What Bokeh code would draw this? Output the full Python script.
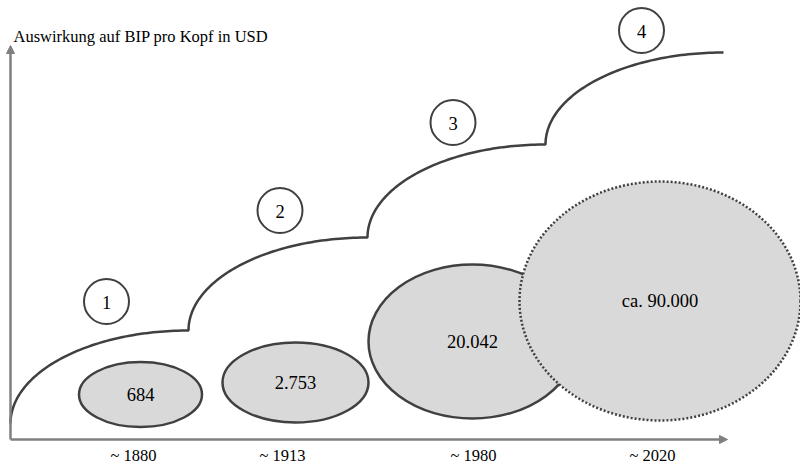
import numpy as np
from bokeh.plotting import figure
from bokeh.models import Range1d, Arrow, NormalHead, ColumnDataSource
from bokeh.core.properties import value
from bokeh.embed import file_html
from bokeh.resources import INLINE

# ---- data ----
years = ["~ 1880", "~ 1913", "~ 1980", "~ 2020"]
gdp_per_capita = [684, 2753, 20042, 90000]
gdp_labels = ["684", "2.753", "20.042", "ca. 90.000"]
stages = ["1", "2", "3", "4"]
y_title = "Auswirkung auf BIP pro Kopf in USD"

# ---- layout (window pixel coordinates) ----
year_x = [133, 282, 473, 652]
bubble_x = [140, 295, 472, 659.5]
bubble_y = [394, 382, 341, 300.5]
bubble_w = [123, 146, 208, 281]
bubble_h = [65, 80, 154, 239]
stage_x = [106, 279.5, 452.5, 641]
stage_y = [301, 210, 122, 30]
steps = [(10, 423), (188, 330), (367, 237), (545, 144), (723, 52)]

FONT = value("Liberation Serif")
OUT = "#404040"
FILL = "#d9d9d9"
AX = "#808080"

p = figure(width=800, height=466, output_backend="svg", toolbar_location=None,
           x_range=Range1d(0, 800), y_range=Range1d(466, 0),
           x_axis_location=None, y_axis_location=None, min_border=0)
p.grid.visible = False
p.outline_line_color = None
p.background_fill_color = "white"

# axes with arrows
p.add_layout(Arrow(x_start=10, y_start=439, x_end=10, y_end=45,
                   line_color=AX, line_width=2.5,
                   end=NormalHead(size=8, fill_color=AX, line_color=AX)))
p.add_layout(Arrow(x_start=10, y_start=439, x_end=727, y_end=439,
                   line_color=AX, line_width=2.5,
                   end=NormalHead(size=8, fill_color=AX, line_color=AX)))

# staircase of quarter-ellipse arcs
xs, ys = [], []
t = np.linspace(np.pi, np.pi / 2, 80)
for (x0, y0), (x1, y1) in zip(steps[:-1], steps[1:]):
    rx, ry = x1 - x0, y0 - y1
    xs.extend(x1 + rx * np.cos(t))
    ys.extend(y0 - ry * np.sin(t))
p.line(xs, ys, line_color=OUT, line_width=2.5)

# bubbles
src = ColumnDataSource(dict(x=bubble_x, y=bubble_y, w=bubble_w, h=bubble_h,
                            lab=gdp_labels, v=gdp_per_capita))
solid = ColumnDataSource(dict(x=bubble_x[:3], y=bubble_y[:3], w=bubble_w[:3], h=bubble_h[:3]))
p.ellipse(x="x", y="y", width="w", height="h", source=solid,
          fill_color=FILL, line_color=OUT, line_width=2.5)
p.ellipse(x=bubble_x[3], y=bubble_y[3], width=bubble_w[3], height=bubble_h[3],
          fill_color=FILL, line_color=OUT, line_width=2.5, line_dash="2 2")
p.text(x="x", y="y", text="lab", source=src, text_font=FONT, text_font_size="18.5px",
       text_align="center", text_baseline="middle", text_color="black")

# stage circles
p.ellipse(x=stage_x, y=stage_y, width=45, height=45, fill_color="white",
          line_color=OUT, line_width=2)
p.text(x=stage_x, y=[v + 1 for v in stage_y], text=stages, text_font=FONT,
       text_font_size="18.5px", text_align="center", text_baseline="middle",
       text_color="black")

# year labels
p.text(x=year_x, y=[464.5] * 4, text=years, text_font=FONT, text_font_size="16.5px",
       text_align="center", text_baseline="bottom", text_color="black")

# axis title
p.text(x=[13], y=[36], text=[y_title], text_font=FONT, text_font_size="16.5px",
       text_align="left", text_baseline="alphabetic", text_color="black")

open("out.html", "w").write(file_html(p, INLINE))
